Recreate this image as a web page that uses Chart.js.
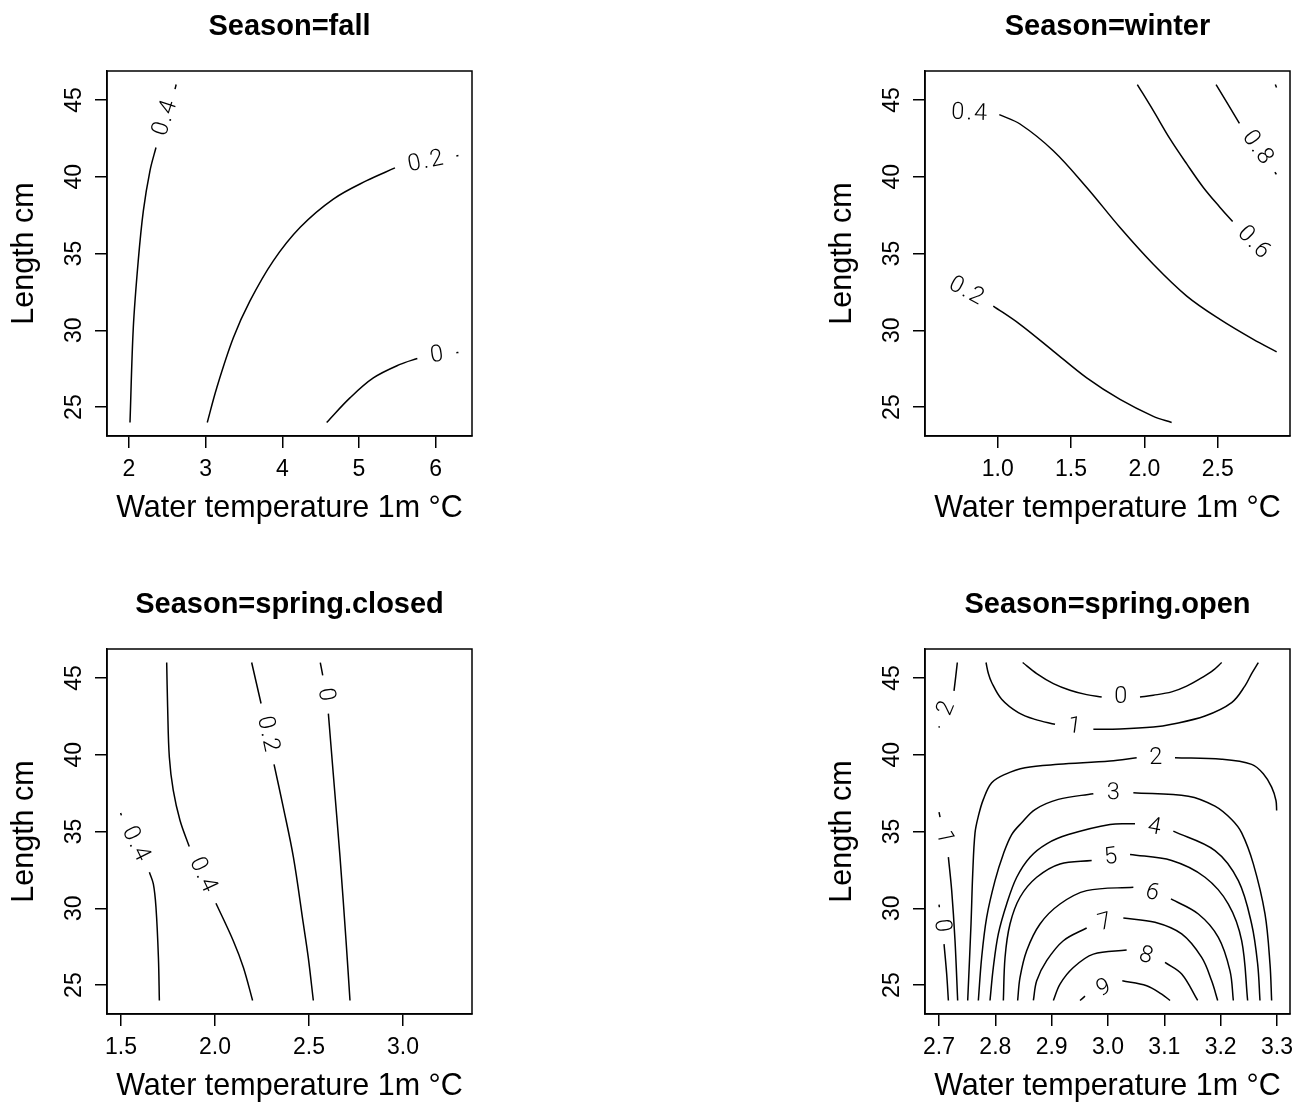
<!DOCTYPE html>
<html>
<head>
<meta charset="utf-8">
<script src="https://cdn.jsdelivr.net/npm/chart.js@4.4.1/dist/chart.umd.min.js"></script>
<style>
  html, body { margin: 0; padding: 0; background: #fff; overflow: hidden; width: 1299px; height: 1102px; position: relative; }
  canvas { position: absolute; }
</style>
</head>
<body>
<canvas id="fall" style="left:0px;top:0px" width="560" height="551"></canvas>
<canvas id="winter" style="left:818px;top:0px" width="500" height="551"></canvas>
<canvas id="closed" style="left:0px;top:578px" width="560" height="551"></canvas>
<canvas id="open" style="left:818px;top:578px" width="500" height="551"></canvas>
<script>
// y axis (same on every panel)
var lengthTicks = [25, 30, 35, 40, 45];
var lengthRange = [23.12, 46.88];

// Season=fall
var fallTempTicks = [2, 3, 4, 5, 6];
var fallTempRange = [1.713, 6.474];
var fallLevels = ['0.4', '0.2', '0'];
var fall_04 = [[2.013,24],[2.056,30.17],[2.12,34.5],[2.187,37.78],[2.274,40.4],[2.352,41.9],null,[2.60,45.7],[2.615,46]];
var fall_02 = [[3.021,24],[3.144,26.25],[3.361,29.51],[3.578,31.91],[3.882,34.52],[4.23,36.69],[4.665,38.54],[5.1,39.74],[5.469,40.57],null,[6.27,41.35],[6.297,41.38]];
var fall_0  = [[4.578,24],[4.882,25.6],[5.187,26.9],[5.535,27.78],[5.761,28.17],null,[6.27,28.54],[6.297,28.56]];

// Season=winter
var winterTempTicks = [1.0, 1.5, 2.0, 2.5];
var winterTempRange = [0.5043, 2.993];
var winterLevels = ['0.4', '0.2', '0.6', '0.8', ''];
var winter_04 = [[0.6,44.2],null,[1.011,44.04],[1.152,43.43],[1.379,41.69],[1.607,39.3],[1.834,36.69],[2.061,34.3],[2.289,32.23],[2.516,30.71],[2.743,29.41],[2.902,28.6]];
var winter_02 = [[0.598,33.5],null,[0.97,31.58],[1.152,30.39],[1.379,28.65],[1.607,26.9],[1.834,25.5],[2.061,24.4],[2.186,24]];
var winter_06 = [[1.952,46],[2.061,44.3],[2.175,42.46],[2.289,40.83],[2.402,39.3],[2.516,38.0],[2.602,37.08],null,[2.884,34.34]];
var winter_08 = [[2.489,46],[2.648,43.47],null,[2.89,40.3],[2.9,40.15]];
var winter_1  = [[2.893,46],[2.901,45.8]];

// Season=spring.closed
var closedTempTicks = [1.5, 2.0, 2.5, 3.0];
var closedTempRange = [1.4255, 3.367];
var closedLevels = ['0.4', '0.4', '0.2', '0'];
var closed_04a = [[1.704,24],[1.699,26.8],[1.686,30.07],[1.672,31.59],[1.651,32.35],null,[1.502,36.05],[1.498,36.2]];
var closed_04b = [[1.743,46],[1.748,43.11],[1.757,39.85],[1.778,37.67],[1.814,35.72],[1.863,34.02],null,[2.005,30.33],[2.097,27.89],[2.151,26.15],[2.2,24]];
var closed_02  = [[2.195,46],[2.245,43.33],null,[2.314,39.37],[2.363,36.59],[2.417,33.33],[2.47,28.98],[2.496,26.8],[2.523,24]];
var closed_0   = [[2.56,46],[2.573,45.17],null,[2.603,42.67],[2.629,38.76],[2.665,33.33],[2.697,27.89],[2.718,24]];

// Season=spring.open
var openTempTicks = [2.7, 2.8, 2.9, 3.0, 3.1, 3.2, 3.3];
var openTempRange = [2.6751, 3.3231];
var openLevels = ['0', '1', '2', '2', '3', '4', '5', '6', '7', '8', '9', '1', '0'];
var open_0  = [[2.8485,46],[2.8734,45.28],[2.903,44.63],[2.9325,44.2],[2.9621,43.91],[2.9888,43.76],null,[3.0568,43.76],[3.0805,43.87],[3.113,44.09],[3.1396,44.46],[3.1692,45.07],[3.187,45.5],[3.2018,46]];
var open_1  = [[2.7834,46],[2.7876,45.28],[2.7935,44.7],[2.8112,43.61],[2.8408,42.74],[2.8704,42.3],[2.9059,41.98],null,[2.974,41.65],[3.0213,41.67],[3.0805,41.8],[3.113,41.98],[3.1722,42.52],[3.2195,43.39],[3.2432,44.48],[3.255,45.28],[3.2669,46]];
var open_2a = [[2.7325,46],[2.7296,45.07],[2.7266,44.15],null,[2.7006,41.85],[2.7,41.76]];
var open_2  = [[3.2994,36.37],[3.2982,37.02],[3.2905,37.89],[3.2757,38.76],[3.255,39.37],[3.2018,39.7],[3.1189,39.8],null,[3.0509,39.8],[3.0036,39.59],[2.9118,39.37],[2.8527,39.15],[2.8172,38.72],[2.7935,38.17],[2.7787,37.09],[2.7698,36.0],[2.7639,34.91],[2.7598,32.24],[2.7568,28.98],[2.7509,24]];
var open_3  = [[2.7698,24],[2.7757,26.8],[2.7846,29.41],[2.7994,31.8],[2.8142,33.54],[2.829,34.8],[2.8467,35.57],[2.8704,36.43],[2.9118,37.09],[2.974,37.46],null,[3.045,37.52],[3.1426,37.3],[3.1899,36.65],[3.2195,35.78],[3.2373,34.91],[3.258,32.89],[3.2787,29.63],[3.2876,26.37],[3.2905,24]];
var open_4  = [[2.7905,24],[2.7964,26.15],[2.8053,28.33],[2.8201,30.28],[2.8379,32.02],[2.8615,33.33],[2.8911,34.2],[2.9296,34.8],[3.0036,35.46],[3.0479,35.5],null,[3.116,35.02],[3.1899,33.76],[3.2314,31.8],[3.255,28.98],[3.2657,26.37],[3.2698,24]];
var open_5  = [[2.8142,24],[2.8172,26.8],[2.826,28.98],[2.8438,30.72],[2.8734,32.02],[2.9148,32.89],[2.971,33.11],null,[3.0391,33.5],[3.113,33.11],[3.1722,32.02],[3.2136,30.28],[3.2373,27.89],[3.2479,24]];
var open_6  = [[2.8396,24],[2.8438,25.5],[2.8556,27.24],[2.8793,28.98],[2.9148,30.28],[2.9621,31.15],[3.045,31.37],null,[3.1118,30.61],[3.1604,29.63],[3.1959,28.11],[3.2166,25.93],[3.2225,24]];
var open_7  = [[2.8675,24],[2.8734,25.28],[2.8911,26.59],[2.9207,27.89],[2.9621,28.72],null,[3.0272,29.37],[3.0834,29.09],[3.1308,28.33],[3.1663,26.8],[3.184,25.28],[3.1947,24]];
var open_8  = [[2.903,24],[2.9148,25.07],[2.9385,26.15],[2.974,27.02],[3.0331,27.28],null,[3.1012,26.48],[3.1308,25.72],[3.1592,24]];
var open_9  = [[2.9503,24],[2.9592,24.28],null,[3.0254,25.28],[3.0686,24.96],[3.0953,24.41],[3.1101,24]];
var open_1b = [[2.7331,24],[2.7284,27.89],[2.7225,31.15],[2.7166,33.33],null,[2.7018,35.93],[2.7,36.26]];
var open_0b = [[2.7166,24],[2.7136,25.72],[2.7089,27.67],null,[2.7006,30.07],[2.7,30.24]];

Chart.defaults.font.family = "'Liberation Sans', Arial, Helvetica, sans-serif";
Chart.defaults.color = '#000';

// label each contour in the gaps of its line, turned along the line
var contourLabels = {
  id: 'contourLabels',
  afterDatasetsDraw: function(chart) {
    var ctx = chart.ctx, xs = chart.scales.x, ys = chart.scales.y;
    chart.data.datasets.forEach(function(ds) {
      var d = ds.data;
      for (var i = 1; i < d.length - 1; i++) {
        if (d[i].x !== null) continue;
        var ax = xs.getPixelForValue(d[i-1].x), ay = ys.getPixelForValue(d[i-1].y);
        var bx = xs.getPixelForValue(d[i+1].x), by = ys.getPixelForValue(d[i+1].y);
        var ang = Math.atan2(by - ay, bx - ax);
        if (ang > Math.PI / 2) ang -= Math.PI;
        if (ang < -Math.PI / 2) ang += Math.PI;
        ctx.save();
        ctx.translate((ax + bx) / 2, (ay + by) / 2);
        ctx.rotate(ang);
        ctx.font = '300 23.5px Roboto, "Liberation Sans", sans-serif';
        ctx.letterSpacing = '2px';
        ctx.textAlign = 'center';
        ctx.textBaseline = 'middle';
        ctx.fillStyle = '#000';
        ctx.fillText(ds.label, 1, 0);
        ctx.restore();
      }
    });
  }
};

var plotBox = {
  id: 'plotBox',
  afterDraw: function(chart) {
    var a = chart.chartArea, ctx = chart.ctx;
    ctx.save();
    ctx.strokeStyle = '#000';
    ctx.lineWidth = 1.5;
    ctx.strokeRect(a.left, a.top, a.right - a.left, a.bottom - a.top);
    ctx.restore();
  }
};

function toPoints(line) {
  return line.map(function(p) { return p ? {x: p[0], y: p[1]} : {x: null, y: null}; });
}

function drawPanel(id, title, xRange, xTicks, decimals, levels, lines, rightPad) {
  new Chart(document.getElementById(id), {
    type: 'line',
    data: {
      datasets: lines.map(function(line, i) {
        return {
          label: levels[i],
          data: toPoints(line),
          borderColor: '#000',
          borderWidth: 1.5,
          pointRadius: 0,
          tension: 0.35,
          fill: false,
          spanGaps: false
        };
      })
    },
    options: {
      responsive: false,
      animation: false,
      devicePixelRatio: 1,
      events: [],
      layout: { padding: { left: 0, top: 0, bottom: 0, right: rightPad } },
      plugins: {
        legend: { display: false },
        tooltip: { enabled: false },
        title: {
          display: true, text: title, fullSize: false, color: '#000',
          font: { size: 29, weight: 'bold' },
          padding: { top: 9.6, bottom: 26.6 }
        }
      },
      scales: {
        x: {
          type: 'linear', min: xRange[0], max: xRange[1],
          afterBuildTicks: function(ax) { ax.ticks = xTicks.map(function(v) { return {value: v}; }); },
          afterFit: function(ax) { ax.height = 115; },
          grid: { display: true, drawOnChartArea: false, drawTicks: true, tickLength: 12, color: '#000', lineWidth: 1.5 },
          border: { display: true, color: '#000', width: 1.5 },
          ticks: {
            color: '#000', font: { size: 23 }, padding: 8, maxRotation: 0, autoSkip: false,
            callback: function(v) { return Number(v).toFixed(decimals); }
          },
          title: { display: true, text: 'Water temperature 1m °C', color: '#000', font: { size: 30.5 }, padding: { top: 0, bottom: 23.7 } }
        },
        y: {
          type: 'linear', min: lengthRange[0], max: lengthRange[1],
          afterBuildTicks: function(ax) { ax.ticks = lengthTicks.map(function(v) { return {value: v}; }); },
          afterFit: function(ax) { ax.width = 107; },
          grid: { display: true, drawOnChartArea: false, drawTicks: true, tickLength: 12, color: '#000', lineWidth: 1.5 },
          border: { display: true, color: '#000', width: 1.5 },
          ticks: {
            color: '#000', font: { size: 23 }, padding: 8, minRotation: 90, maxRotation: 90,
            crossAlign: 'center', autoSkip: false,
            callback: function(v) { return String(v); }
          },
          title: { display: true, text: 'Length cm', color: '#000', font: { size: 30.5 }, padding: { top: 6.5, bottom: 0 } }
        }
      }
    },
    plugins: [contourLabels, plotBox]
  });
}

drawPanel('fall', 'Season=fall', fallTempRange, fallTempTicks, 0, fallLevels,
  [fall_04, fall_02, fall_0], 88);
drawPanel('winter', 'Season=winter', winterTempRange, winterTempTicks, 1, winterLevels,
  [winter_04, winter_02, winter_06, winter_08, winter_1], 28);
drawPanel('closed', 'Season=spring.closed', closedTempRange, closedTempTicks, 1, closedLevels,
  [closed_04a, closed_04b, closed_02, closed_0], 88);
drawPanel('open', 'Season=spring.open', openTempRange, openTempTicks, 1, openLevels,
  [open_0, open_1, open_2a, open_2, open_3, open_4, open_5, open_6, open_7, open_8, open_9, open_1b, open_0b], 28);
</script>
</body>
</html>
